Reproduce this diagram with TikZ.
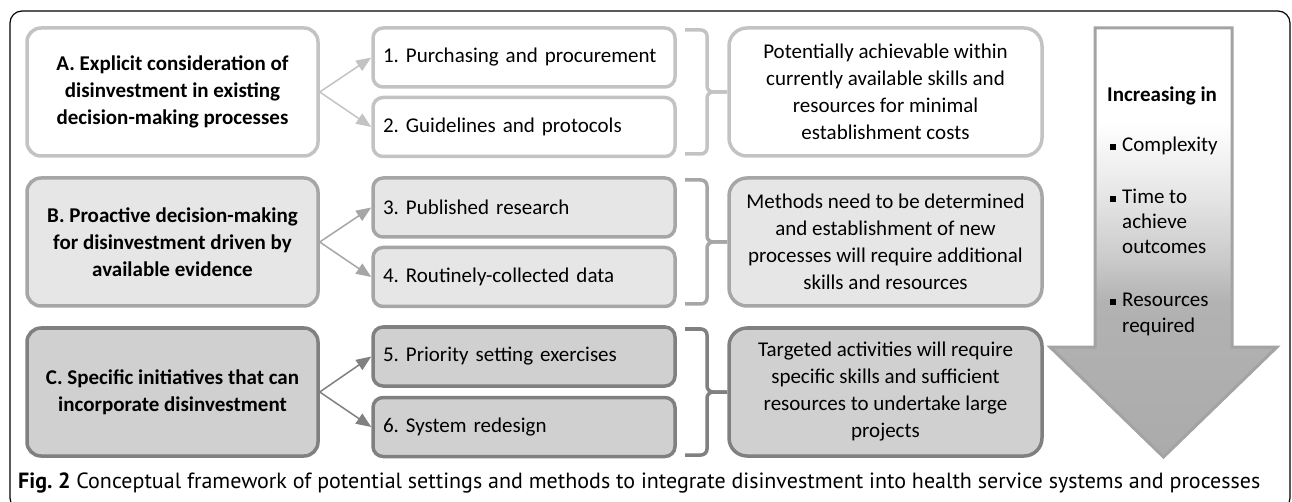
\documentclass[tikz,border=0pt]{standalone}
\usepackage{fontspec}
\setmainfont{Carlito}
\newfontfamily\capfont{PT Sans}
\usetikzlibrary{arrows.meta}

\definecolor{edgeA}{HTML}{C3C3C3}
\definecolor{fillA}{HTML}{FFFFFF}
\definecolor{edgeB}{HTML}{A6A6A6}
\definecolor{fillB}{HTML}{E6E6E6}
\definecolor{edgeC}{HTML}{808080}
\definecolor{fillC}{HTML}{D0D0D0}
\definecolor{arrowedge}{HTML}{A3A3A3}
\definecolor{shadeA}{HTML}{ABABAB}
\definecolor{shadeB}{HTML}{B2B2B2}
\definecolor{shadeC}{HTML}{CACACA}
\definecolor{shadeD}{HTML}{E4E4E4}

\pgfdeclareverticalshading{downshade}{100bp}{color(0bp)=(shadeA); color(25bp)=(shadeA); color(43bp)=(shadeB); color(48bp)=(shadeC); color(55bp)=(shadeD); color(64bp)=(white); color(100bp)=(white)}

\tikzset{
	box/.style={rounded corners=14, line width=3.5, align=center, inner sep=0, font=\fontsize{21}{27}\selectfont},
	bigbox/.style={box, minimum width=291, minimum height=128, font=\fontsize{21}{27}\selectfont\bfseries},
	smallbox/.style={box, rounded corners=10, minimum width=302, minimum height=59, text width=282, align=left, inner xsep=10},
	notebox/.style={box, rounded corners=18, minimum width=313, minimum height=128},
	rowa/.style={draw=edgeA, fill=fillA},
	rowb/.style={draw=edgeB, fill=fillB},
	rowc/.style={draw=edgeC, fill=fillC},
	link/.style={line width=1.5, -{Triangle[length=15, width=12]}},
	brace/.style={line width=3.5, rounded corners=6},
	item/.style={anchor=base west, align=left, inner sep=0, font=\fontsize{21}{25}\selectfont}
}

\newcommand{\sqbullet}{\llap{\rule[2pt]{6pt}{6pt}\hspace{6pt}}}

\begin{document}
\frenchspacing
\begin{tikzpicture}[x=1pt, y=-1pt]

	\useasboundingbox (0,0) rectangle (1292,502);
	
	\draw[line width=1.2, rounded corners=12] (10,11) rectangle (1290,510);
	
	\node[bigbox, rowa] (a) at (172.5,92) {A. Explicit consideration of\\disinvestment in existing\\decision-making processes};
	\node[smallbox, rowa] (p1) at (524,57.5) {1. Purchasing and procurement};
	\node[smallbox, rowa] (p2) at (524,127) {2. Guidelines and protocols};
	\node[notebox, rowa] (na) at (885.5,92) {Potentially achievable within\\currently available skills and\\resources for minimal\\establishment costs};
	\draw[link, edgeA] (a.east) -- (p1.west);
	\draw[link, edgeA] (a.east) -- (p2.west);
	\draw[brace, edgeA] (685,30) -- (707,30) -- (707,92) -- (727,92);
	\draw[brace, edgeA] (727,92) -- (707,92) -- (707,154) -- (685,154);
	
	\node[bigbox, rowb] (b) at (172.5,242) {B. Proactive decision-making\\for disinvestment driven by\\available evidence};
	\node[smallbox, rowb] (p3) at (524,207.5) {3. Published research};
	\node[smallbox, rowb] (p4) at (524,277) {4. Routinely-collected data};
	\node[notebox, rowb] (nb) at (885.5,242) {Methods need to be determined\\and establishment of new\\processes will require additional\\skills and resources};
	\draw[link, edgeB] (b.east) -- (p3.west);
	\draw[link, edgeB] (b.east) -- (p4.west);
	\draw[brace, edgeB] (685,180) -- (707,180) -- (707,242) -- (727,242);
	\draw[brace, edgeB] (727,242) -- (707,242) -- (707,304) -- (685,304);
	
	\node[bigbox, rowc] (c) at (172.5,392) {C. Specific initiatives that can\\incorporate disinvestment};
	\node[smallbox, rowc] (p5) at (524,356.5) {5. Priority setting exercises};
	\node[smallbox, rowc] (p6) at (524,427) {6. System redesign};
	\node[notebox, rowc] (nc) at (885.5,392) {Targeted activities will require\\specific skills and sufficient\\resources to undertake large\\projects};
	\draw[link, edgeC] (c.east) -- (p5.west);
	\draw[link, edgeC] (c.east) -- (p6.west);
	\draw[brace, edgeC] (685,329) -- (707,329) -- (707,392) -- (727,392);
	\draw[brace, edgeC] (727,392) -- (707,392) -- (707,455) -- (685,455);
	
	\draw[draw=arrowedge, line width=3, shading=downshade, line join=miter]
		(1095,28) -- (1232,28) -- (1232,347) -- (1277,347) -- (1163.5,457) -- (1050,347) -- (1095,347) -- cycle;
	
	\node[item, font=\fontsize{21}{25}\selectfont\bfseries] (inc) at (1107,102) {Increasing in};
	\node[item] (it1) at (1122,152) {\sqbullet Complexity};
	\node[item] (it2) at (1122,254) {\sqbullet Time to\\achieve\\outcomes};
	\node[item] (it3) at (1122,332) {\sqbullet Resources\\required};
	
	\node[anchor=west, inner sep=0, font=\capfont\fontsize{22}{26}\selectfont] (cap) at (18,483)
		{\textbf{Fig. 2} Conceptual framework of potential settings and methods to integrate disinvestment into health service systems and processes};
	
\end{tikzpicture}
\end{document}
